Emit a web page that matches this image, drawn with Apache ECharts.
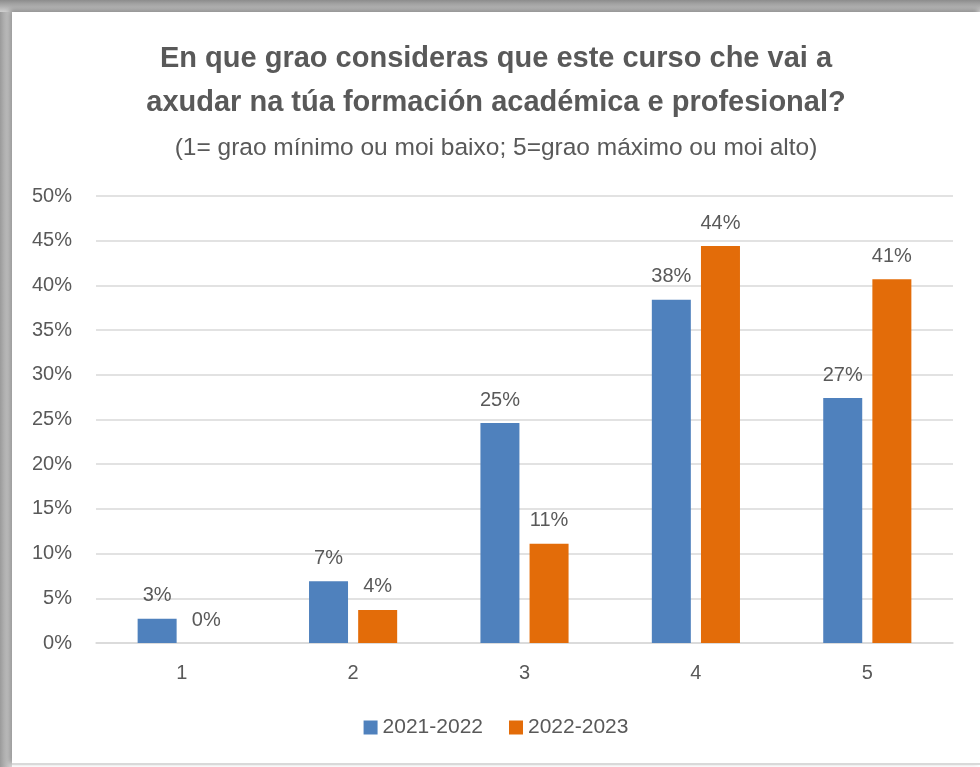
<!DOCTYPE html>
<html>
<head>
<meta charset="utf-8">
<script src="https://cdn.jsdelivr.net/npm/echarts@6/dist/echarts.min.js"></script>
<style>
  html, body { margin: 0; padding: 0; background: #fff; }
  #frame {
    position: absolute; left: 0; top: 0; width: 980px; height: 767px;
    background: linear-gradient(to right, #9a9a9a, #d8d8d8 12px, #fff 12px);
  }
  #frame:before {
    content: ''; position: absolute; left: 0; top: 0; width: 980px; height: 12px;
    background: linear-gradient(to bottom, #8c8c8c, #d0d0d0);
  }
  #main {
    position: absolute; left: 12px; top: 12px; width: 968px; height: 751px;
    background: #fff;
    box-shadow: -2px -2px 5px rgba(0,0,0,0.35);
    border-bottom: 2px solid #d9d9d9;
  }
</style>
</head>
<body>
<div id="frame"></div>
<div id="main"></div>
<script>
// data
const categories = ['1', '2', '3', '4', '5'];
const seriesNames = ['2021-2022', '2022-2023'];
const values2122 = [0.027, 0.069, 0.246, 0.384, 0.274];
const values2223 = [0.000, 0.037, 0.111, 0.444, 0.407];

const chart = echarts.init(document.getElementById('main'));

const font = '"Liberation Sans", Arial, sans-serif';
const txt = '#595959';

const labelOpt = {
  show: true,
  position: 'top',
  distance: 13,
  color: txt,
  fontFamily: font,
  fontSize: 20,
  formatter: p => Math.round(p.value * 100) + '%'
};

let option = {
  animation: false,
  title: [
    {
      text: 'En que grao consideras que este curso che vai a\naxudar na túa formación académica e profesional?',
      left: 'center',
      top: 20,
      textStyle: {
        color: txt, fontFamily: font, fontWeight: 'bold',
        fontSize: 29, lineHeight: 44, align: 'center'
      }
    },
    {
      text: '(1= grao mínimo ou moi baixo; 5=grao máximo ou moi alto)',
      left: 'center',
      top: 119,
      textStyle: { color: txt, fontFamily: font, fontWeight: 'normal', fontSize: 24.5 }
    }
  ],
  legend: {
    data: seriesNames,
    bottom: 20,
    left: 'center',
    itemWidth: 14,
    itemHeight: 14,
    itemGap: 26,
    icon: 'rect',
    textStyle: { color: txt, fontFamily: font, fontSize: 21 }
  },
  grid: { left: 84, right: 27, top: 184, bottom: 120, containLabel: false },
  xAxis: {
    type: 'category',
    data: categories,
    axisTick: { show: false },
    axisLine: { lineStyle: { color: '#d9d9d9', width: 1.5 } },
    axisLabel: { color: txt, fontFamily: font, fontSize: 20, margin: 20 }
  },
  yAxis: {
    type: 'value',
    min: 0,
    max: 0.5,
    interval: 0.05,
    axisLine: { show: false },
    axisTick: { show: false },
    splitLine: { lineStyle: { color: '#d9d9d9', width: 1.5 } },
    axisLabel: {
      color: txt, fontFamily: font, fontSize: 20, margin: 24,
      formatter: v => Math.round(v * 100) + '%'
    }
  },
  series: [
    {
      name: seriesNames[0],
      type: 'bar',
      data: values2122,
      barWidth: 39,
      barGap: '26%',
      itemStyle: { color: '#4F81BD' },
      label: labelOpt
    },
    {
      name: seriesNames[1],
      type: 'bar',
      data: values2223,
      barWidth: 39,
      barGap: '26%',
      itemStyle: { color: '#E36C09' },
      label: labelOpt
    }
  ]
};

chart.setOption(option);
</script>
</body>
</html>
